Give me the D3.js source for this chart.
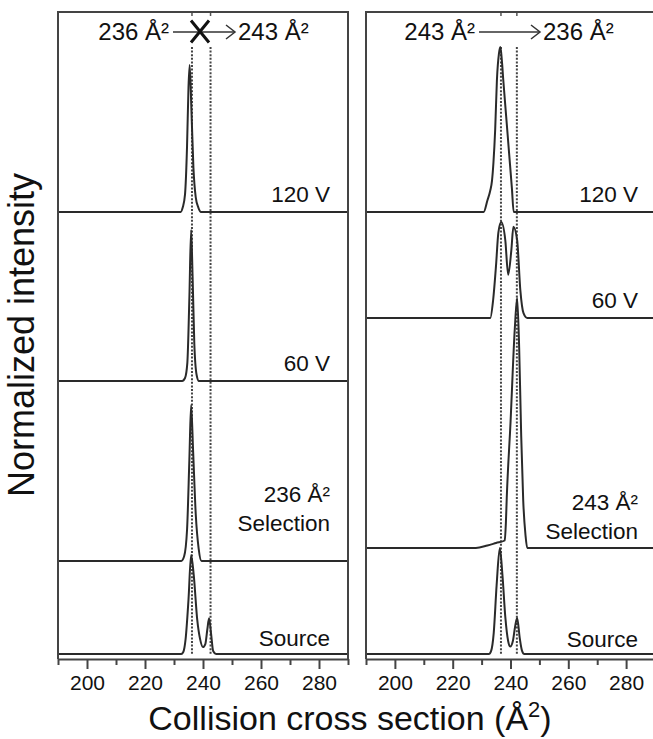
<!DOCTYPE html>
<html><head><meta charset="utf-8">
<script src="https://cdn.jsdelivr.net/npm/d3@7"></script>
<style>body{margin:0;background:#fff}svg{display:block}</style>
</head><body>
<script>
// ---------------- data ----------------
const xDomain = [190, 290];
const xTicks = [200, 220, 240, 260, 280];
const xMinorTicks = [190, 210, 230, 250, 270, 290];
const markerCCS = { left: [236.2, 242.6], right: [236.7, 242.2] };
const headerFrom = ["236 Å²", "243 Å²"];
const headerTo = ["243 Å²", "236 Å²"];
const labels120 = ["120 V"];
const labels60 = ["60 V"];
const labelsSelLeft = ["236 Å²", "Selection"];
const labelsSelRight = ["243 Å²", "Selection"];
const labelsSource = ["Source"];

// left panel (236 Å² selected)
const L120_ccs = [190, 232.3, 233.0, 233.8, 234.5, 235.0, 235.4, 236.0, 236.7, 237.5, 238.4, 239.3, 290];
const L120_int = [0, 0, 3, 12, 45, 85, 100, 70, 30, 10, 3, 0, 0];
const L60_ccs  = [190, 232.8, 233.8, 234.6, 235.3, 235.9, 236.4, 237.0, 237.8, 238.6, 290];
const L60_int  = [0, 0, 2, 12, 55, 100, 70, 25, 4, 0, 0];
const LSel_ccs = [190, 232.5, 233.5, 234.5, 235.3, 235.9, 236.6, 237.5, 238.5, 239.5, 290];
const LSel_int = [0, 0, 3, 20, 65, 100, 70, 30, 8, 0, 0];
const LSrc_ccs = [190, 232.5, 233.2, 234.0, 235.0, 235.9, 236.8, 238.0, 239.0, 240.0, 240.8, 241.5, 242.1, 242.8, 243.5, 244.5, 290];
const LSrc_int = [0, 0, 2, 15, 55, 100, 80, 35, 15, 7, 10, 25, 36, 20, 3, 0, 0];

// right panel (243 Å² selected)
const R120_ccs = [190, 230.7, 232.0, 233.0, 233.6, 234.1, 234.7, 235.3, 236.0, 236.5, 237.0, 237.5, 238.5, 239.5, 240.5, 241.1, 290];
const R120_int = [0, 0, 7, 13, 19, 30, 50, 80, 96, 100, 92, 80, 58, 36, 14, 0, 0];
const R60_ccs  = [190, 233.0, 234.0, 235.0, 235.8, 236.8, 238.2, 239.2, 240.3, 241.0, 242.3, 243.4, 244.5, 245.8, 290];
const R60_int  = [0, 0, 19, 55, 89, 100, 81, 45, 71, 95, 81, 29, 5, 0, 0];
const RSel_ccs = [190, 228, 232, 235, 238.0, 238.4, 238.7, 240.0, 241.5, 242.3, 243.0, 243.7, 244.4, 245.2, 245.8, 290];
const RSel_int = [0, 0, 1, 2, 3, 10, 20, 50, 88, 100, 80, 45, 19, 5, 0, 0];
const RSrc_ccs = [190, 232.5, 233.3, 234.2, 235.2, 236.3, 237.2, 238.2, 239.2, 239.9, 240.8, 241.6, 242.3, 243.2, 244.0, 244.8, 290];
const RSrc_int = [0, 0, 3, 20, 65, 100, 75, 35, 12, 7, 12, 26, 34, 15, 3, 0, 0];

// ---------------- layout ----------------
const W = 653, H = 739;
const FONT = "'Liberation Sans', Arial, Helvetica, sans-serif";
const TOP = 12, AXIS_Y = 659;
const panelsPx = [[58, 348], [366, 655]];
const ink = "#2a2a2a";

const svg = d3.select("body").append("svg").attr("width", W).attr("height", H)
  .style("font-family", FONT);

const panels = [
  { key: "left", px: panelsPx[0], tracks: [
      { ccs: L120_ccs, int: L120_int, base: 212, top: 65, labels: labels120, ly: 202 },
      { ccs: L60_ccs, int: L60_int, base: 381, top: 230, labels: labels60, ly: 371 },
      { ccs: LSel_ccs, int: LSel_int, base: 561, top: 405, labels: labelsSelLeft, ly: 531 },
      { ccs: LSrc_ccs, int: LSrc_int, base: 654, top: 555, labels: labelsSource, ly: 646 }
  ]},
  { key: "right", px: panelsPx[1], tracks: [
      { ccs: R120_ccs, int: R120_int, base: 212, top: 47, labels: labels120, ly: 202 },
      { ccs: R60_ccs, int: R60_int, base: 318, top: 222, labels: labels60, ly: 308 },
      { ccs: RSel_ccs, int: RSel_int, base: 548, top: 298, labels: labelsSelRight, ly: 539 },
      { ccs: RSrc_ccs, int: RSrc_int, base: 654, top: 548, labels: labelsSource, ly: 647 }
  ]}
];

panels.forEach((p, pi) => {
  const x = d3.scaleLinear().domain(xDomain).range(p.px);
  const g = svg.append("g");

  // dotted marker lines
  markerCCS[p.key].forEach(v => {
    g.append("line").attr("x1", x(v)).attr("x2", x(v)).attr("y1", 47).attr("y2", 655)
      .attr("stroke", "#444").attr("stroke-width", 2).attr("stroke-dasharray", "2,1.6");
    g.append("line").attr("x1", x(v)).attr("x2", x(v)).attr("y1", TOP).attr("y2", TOP + 4)
      .attr("stroke", "#555").attr("stroke-width", 1.5);
  });

  // traces
  p.tracks.forEach(t => {
    const y = d3.scaleLinear().domain([0, 100]).range([t.base, t.top]);
    const pts = t.ccs.map((c, i) => [c, t.int[i]]);
    const line = d3.line().x(d => x(d[0])).y(d => y(d[1])).curve(d3.curveMonotoneX);
    g.append("path").attr("d", line(pts)).attr("fill", "none")
      .attr("stroke", ink).attr("stroke-width", 2).attr("stroke-linejoin", "round");
    const n = t.labels.length;
    t.labels.forEach((s, i) => {
      g.append("text").attr("x", p.px[0] + 272).attr("y", t.ly - (n - 1 - i) * 29)
        .attr("text-anchor", "end").attr("font-size", 22.5).attr("fill", "#111").text(s);
    });
  });

  // frame
  g.append("path")
    .attr("d", `M${p.px[0]},${AXIS_Y}V${TOP}H${p.px[1]}V${AXIS_Y}`)
    .attr("fill", "none").attr("stroke", "#444").attr("stroke-width", 2);

  // axis
  const ax = d3.axisBottom(x).tickValues(xTicks).tickSize(10).tickSizeOuter(0).tickPadding(6);
  const axG = g.append("g").attr("transform", `translate(0,${AXIS_Y})`).call(ax);
  axG.select(".domain").attr("stroke", "#444").attr("stroke-width", 2);
  axG.selectAll(".tick line").attr("stroke", "#444").attr("stroke-width", 2);
  axG.selectAll(".tick text").attr("font-size", 21).attr("font-family", FONT).attr("fill", "#111");
  const axm = d3.axisBottom(x).tickValues(xMinorTicks).tickSize(6).tickSizeOuter(0).tickFormat("");
  const axmG = g.append("g").attr("transform", `translate(0,${AXIS_Y})`).call(axm);
  axmG.select(".domain").remove();
  axmG.selectAll(".tick line").attr("stroke", "#444").attr("stroke-width", 2);

  // header
  const arrowX = pi === 0 ? [173, 235] : [479, 540];
  const ay = 32;
  g.append("text").attr("x", arrowX[0] - 4).attr("y", 40).attr("text-anchor", "end")
    .attr("font-size", 24).attr("fill", "#111").text(headerFrom[pi]);
  g.append("text").attr("x", arrowX[1] + 3).attr("y", 40).attr("text-anchor", "start")
    .attr("font-size", 24).attr("fill", "#111").text(headerTo[pi]);
  g.append("line").attr("x1", arrowX[0]).attr("x2", arrowX[1]).attr("y1", ay).attr("y2", ay)
    .attr("stroke", "#333").attr("stroke-width", 1.5);
  g.append("path").attr("d", `M${arrowX[1] - 9},${ay - 7}L${arrowX[1]},${ay}L${arrowX[1] - 9},${ay + 7}`)
    .attr("fill", "none").attr("stroke", "#333").attr("stroke-width", 1.5);
  if (pi === 0) {
    const cx = 200, cy = 31.5;
    g.append("path").attr("d", `M${cx - 9},${cy - 11}L${cx + 9},${cy + 11}M${cx + 9},${cy - 11}L${cx - 9},${cy + 11}`)
      .attr("stroke", "#111").attr("stroke-width", 3).attr("fill", "none");
  }
});

// axis titles
svg.append("text").attr("x", 350).attr("y", 730).attr("text-anchor", "middle")
  .attr("font-size", 34).attr("fill", "#111")
  .call(t => {
    t.append("tspan").text("Collision cross section (Å");
    t.append("tspan").attr("font-size", 22).attr("dy", -13).text("2");
    t.append("tspan").attr("dy", 13).text(")");
  });
svg.append("text").attr("transform", "translate(34,335) rotate(-90)").attr("text-anchor", "middle")
  .attr("font-size", 36).attr("fill", "#111").text("Normalized intensity");
</script>
</body></html>
